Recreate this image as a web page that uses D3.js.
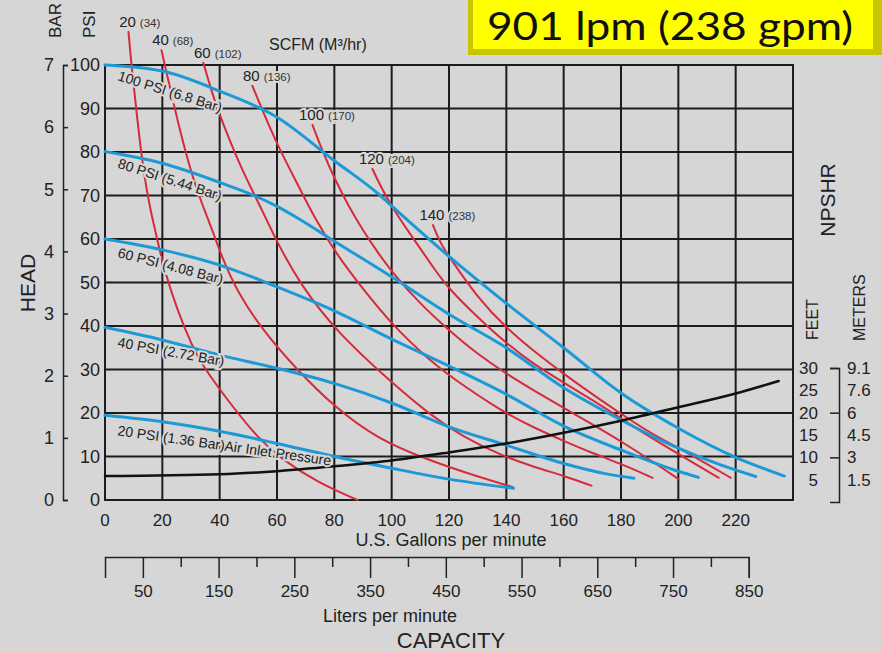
<!DOCTYPE html>
<html>
<head>
<meta charset="utf-8">
<script src="https://cdn.jsdelivr.net/npm/d3@7"></script>
<style>
  html, body { margin: 0; padding: 0; background: #d6d6d6; }
  svg { display: block; font-family: "Liberation Sans", Arial, Helvetica, sans-serif; }
</style>
</head>
<body>
<div id="chart"></div>
<script>
// ---------- data ----------
const gpmTicks = [0, 20, 40, 60, 80, 100, 120, 140, 160, 180, 200, 220];
const psiTicks = [0, 10, 20, 30, 40, 50, 60, 70, 80, 90, 100];
const barTicks = [0, 1, 2, 3, 4, 5, 6, 7];
const lpmTicks = [50, 150, 250, 350, 450, 550, 650, 750, 850];
const lpmMinorTicks = [100, 200, 300, 400, 500, 600, 700, 800];
const feetTicks = [5, 10, 15, 20, 25, 30];
const feetMajor = [10, 20, 30];
const meterLabels = ["1.5", "3", "4.5", "6", "7.6", "9.1"];

// discharge head (psi) vs flow (gpm) for each air inlet pressure
const pressureNames = ["100 PSI (6.8 Bar)", "80 PSI (5.44 Bar)", "60 PSI (4.08 Bar)",
  "40 PSI (2.72 Bar)", "20 PSI (1.36 Bar)Air Inlet Pressure"];
const head100 = [[0,100],[20,98.6],[40,94],[60,88],[80,78],[96,70],[100,67.6],[120,56],[140,45.2],
  [160,35],[180,24.6],[200,16.5],[220,9.8],[237,5.5]];
const head80 = [[0,80.1],[20,77.4],[40,73],[52,70],[60,67.5],[68,64.5],[80,59.5],[100,51.3],[120,42.7],
  [140,35],[160,25.8],[180,18.4],[200,11.9],[215,8],[227,5.4]];
const head60 = [[0,60],[20,57.5],[40,54],[60,49],[80,43.5],[100,37],[120,30.8],[140,24.3],[160,17],
  [180,11.5],[200,6.6],[207,5.2]];
const head40 = [[0,39.7],[20,36.8],[40,33.3],[60,30.3],[80,26.8],[100,22.3],[120,16.8],[140,12.6],
  [160,8.4],[175,6],[184.5,5]];
const head20 = [[0,19.5],[20,18],[40,15.8],[60,13],[80,10],[100,7.3],[120,4.8],[142.5,2.7]];

// air consumption lines, SCFM (m3/hr)
const scfmNames = ["20", "40", "60", "80", "100", "120", "140"];
const m3hrNames = ["(34)", "(68)", "(102)", "(136)", "(170)", "(204)", "(238)"];
const air20 = [[8.2,107.6],[9.2,100],[11.3,87.4],[13.4,75.5],[15.8,66.7],[18.3,59.8],[20.4,53.5],[25,44],
  [30.5,35.2],[34.3,30.6],[42.7,23],[53.2,14.3],[61.2,9.6],[74.1,4],[88.1,0]];
const air40 = [[19.7,103.4],[21.4,98.4],[22.8,94.5],[26.3,84.4],[30.5,74.3],[33.3,69],[37.8,61.4],[41,55.5],
  [46,48],[55,39],[67,29.9],[80,21.4],[95,14],[113.5,9],[128,5.8],[142.1,3]];
const air60 = [[34.3,100.5],[37.8,92.6],[40.6,87.5],[47.2,76.6],[55.3,66],[60.2,59],[68.2,49.5],[80.7,38.7],
  [100,27],[113.5,19.5],[125,14.5],[138,10.3],[150,7.5],[160,5.6],[169.7,3.3]];
const air80 = [[51.4,95.2],[55.3,89],[60.5,81.1],[68.2,71.3],[73,65],[80.7,56.5],[90,48.5],[100.5,40],
  [113.5,32],[120,28.6],[138,20.5],[150,16.5],[160.3,13.5],[170,10.8],[180.4,8.2],[191,5.1]];
const air100 = [[72.4,86.2],[76,80],[80,74],[85,67.5],[90,62],[95,57],[100,52.5],[110,45],[120,39],
  [130,33.5],[140,29],[150,25],[160,21.2],[170,17.4],[180,13.5],[190,9.3],[200.1,4.8]];
const air120 = [[93.3,76.1],[96,72.3],[100,67.5],[105,62.5],[110,57.8],[115,53],[120,48.5],[130,42],
  [140,36],[150,31],[160,27],[170,23],[180,18.8],[190,14.5],[200,10.6],[214.1,5.1]];
const air140 = [[114.4,63.2],[117,59],[120.5,55.5],[130,46.5],[140,39.5],[150,34],[160,29],[170,24.3],
  [180,19.8],[190,15.5],[200,12],[210,8.3],[218.3,5.1]];

// NPSHR (feet) vs flow (gpm)
const npshrFeet = [[0,5.8],[40,6.2],[60,6.9],[80,8],[100,9.3],[120,11.1],[140,13.1],[160,15.5],
  [180,18.2],[200,21.2],[220,24.3],[235,27.1]];

const LPM_PER_GPM = 3.785;

// ---------- drawing ----------
const W = 882, H = 652;
const bg = "#d6d6d6";
const gridColor = "#1c1c1c";
const blue = "#1d9ad6";
const red = "#d62b3b";
const ink = "#222";

const svg = d3.select("#chart").append("svg")
  .attr("width", W).attr("height", H);

svg.append("rect").attr("width", W).attr("height", H).attr("fill", bg);

const x = d3.scaleLinear().domain([0, 240]).range([105, 793]);
const y = d3.scaleLinear().domain([0, 100]).range([500, 65]);
const yBar = d3.scaleLinear().domain([0, 7]).range([500, 65]);
const yFeet = d3.scaleLinear().domain([0, 30]).range([502, 368]);
const xLpm = d3.scaleLinear().domain([0, 850]).range([x(0), x(850 / LPM_PER_GPM)]);

// grid
const grid = svg.append("g").attr("class", "grid");
grid.selectAll("line.v")
  .data(gpmTicks.concat(x.domain()[1]))
  .join("line")
  .attr("class", "v")
  .attr("x1", d => x(d)).attr("x2", d => x(d))
  .attr("y1", y(0) + 1).attr("y2", y(100) - 1)
  .attr("stroke", gridColor).attr("stroke-width", 2);
grid.selectAll("line.h")
  .data(psiTicks)
  .join("line")
  .attr("class", "h")
  .attr("x1", x(0) - 1).attr("x2", x(240) + 1)
  .attr("y1", d => y(d)).attr("y2", d => y(d))
  .attr("stroke", gridColor).attr("stroke-width", 2);

// gpm labels
svg.append("g").selectAll("text")
  .data(gpmTicks).join("text")
  .attr("x", d => x(d)).attr("y", 526)
  .attr("text-anchor", "middle")
  .style("font-size", "17px").attr("fill", ink)
  .text(d => d);

svg.append("text").attr("x", 451).attr("y", 546).attr("text-anchor", "middle")
  .style("font-size", "18px").attr("fill", ink).text("U.S. Gallons per minute");

// psi labels
svg.append("g").selectAll("text")
  .data(psiTicks).join("text")
  .attr("x", 100).attr("y", d => y(d)).attr("dy", "0.36em")
  .attr("text-anchor", "end")
  .style("font-size", "18px").attr("fill", ink)
  .text(d => d);

// bar axis
const barAxis = svg.append("g")
  .attr("transform", "translate(63,0)")
  .call(d3.axisRight(yBar).tickValues(barTicks).tickSize(5).tickSizeOuter(5).tickFormat(d3.format("d")));
barAxis.select(".domain").attr("stroke", ink).attr("stroke-width", 1.5);
barAxis.selectAll(".tick line").attr("stroke", ink).attr("stroke-width", 1.5);
barAxis.selectAll(".tick text")
  .attr("x", -9).attr("text-anchor", "end")
  .style("font-size", "18px").style("font-family", "Liberation Sans, Arial, sans-serif").attr("fill", ink);

// rotated axis titles
function vText(px, py, txt, size, anchor) {
  svg.append("text")
    .attr("transform", `translate(${px},${py}) rotate(-90)`)
    .attr("text-anchor", anchor)
    .style("font-size", size + "px").attr("fill", ink)
    .text(txt);
}
vText(61, 38, "BAR", 17, "start");
vText(95, 38, "PSI", 17, "start");
vText(35, 283, "HEAD", 21, "middle");
vText(835, 200, "NPSHR", 21, "middle");
vText(818, 340, "FEET", 16, "start");
vText(865, 341, "METERS", 16, "start");

// liters axis
const lpmAxis = svg.append("g")
  .attr("transform", "translate(0,557)")
  .call(d3.axisBottom(xLpm).tickValues(lpmTicks).tickSizeInner(21).tickSizeOuter(21).tickPadding(7));
lpmAxis.select(".domain").attr("stroke", ink).attr("stroke-width", 1.5);
lpmAxis.selectAll(".tick line").attr("stroke", ink).attr("stroke-width", 1.5);
lpmAxis.selectAll(".tick text")
  .style("font-size", "17px").style("font-family", "Liberation Sans, Arial, sans-serif").attr("fill", ink);
const lpmMinor = svg.append("g")
  .attr("transform", "translate(0,557)")
  .call(d3.axisBottom(xLpm).tickValues(lpmMinorTicks).tickSize(10).tickFormat(""));
lpmMinor.select(".domain").remove();
lpmMinor.selectAll(".tick line").attr("stroke", ink).attr("stroke-width", 1.5);

svg.append("text").attr("x", 390).attr("y", 622).attr("text-anchor", "middle")
  .style("font-size", "18px").attr("fill", ink).text("Liters per minute");
svg.append("text").attr("x", 451).attr("y", 648).attr("text-anchor", "middle")
  .style("font-size", "22px").attr("fill", ink).text("CAPACITY");

// NPSHR scale bracket
const npAxis = svg.append("g")
  .attr("transform", "translate(839,0)")
  .call(d3.axisLeft(yFeet).tickValues(feetMajor).tickSize(9).tickSizeOuter(9).tickFormat(""));
npAxis.select(".domain").attr("stroke", ink).attr("stroke-width", 1.5);
npAxis.selectAll(".tick line").attr("stroke", ink).attr("stroke-width", 1.5);

svg.append("g").selectAll("text")
  .data(feetTicks).join("text")
  .attr("x", 818).attr("y", d => yFeet(d)).attr("dy", "0.36em")
  .attr("text-anchor", "end")
  .style("font-size", "17px").attr("fill", ink)
  .text(d => d);
svg.append("g").selectAll("text")
  .data(meterLabels).join("text")
  .attr("x", 847).attr("y", (d, i) => yFeet(feetTicks[i])).attr("dy", "0.36em")
  .style("font-size", "17px").attr("fill", ink)
  .text(d => d);

// curves
const line = d3.line().x(d => x(d[0])).y(d => y(d[1])).curve(d3.curveMonotoneX);
const smooth = d3.line().x(d => x(d[0])).y(d => y(d[1])).curve(d3.curveBasis);
const airCurves = [air20, air40, air60, air80, air100, air120, air140];
const headCurves = [head100, head80, head60, head40, head20];

svg.append("g").selectAll("path")
  .data(airCurves).join("path")
  .attr("d", smooth)
  .attr("fill", "none").attr("stroke", red).attr("stroke-width", 2)
  .attr("stroke-linecap", "round");

svg.append("g").selectAll("path")
  .data(headCurves).join("path")
  .attr("d", line)
  .attr("fill", "none").attr("stroke", blue).attr("stroke-width", 3)
  .attr("stroke-linecap", "round");

svg.append("path")
  .datum(npshrFeet)
  .attr("d", d3.line().x(d => x(d[0])).y(d => yFeet(d[1])).curve(d3.curveMonotoneX))
  .attr("fill", "none").attr("stroke", "#111").attr("stroke-width", 2.5)
  .attr("stroke-linecap", "round");

// curve labels (halo hides the grid and red lines behind them)
const labelLayout = [[15, 17.5], [16, 17.8], [18, 14.5], [19.5, 10.3], [20, 8.1]]; // [drop below curve, angle]
svg.append("g").selectAll("text")
  .data(pressureNames).join("text")
  .attr("transform", (d, i) => {
    const px = x(0) + 12;
    const py = y(headCurves[i][0][1]) + labelLayout[i][0];
    return `translate(${px},${py}) rotate(${labelLayout[i][1]})`;
  })
  .style("font-size", "14px").attr("fill", ink)
  .attr("stroke", bg).attr("stroke-width", 4).attr("paint-order", "stroke")
  .text(d => d);

// SCFM labels at the top of each red line
const scfm = svg.append("g");
airCurves.forEach((c, i) => {
  const px = x(c[0][0]) - 1, py = y(c[0][1]) - 5;
  const num = scfm.append("text")
    .attr("x", px).attr("y", py).attr("text-anchor", "middle")
    .style("font-size", "15px").attr("fill", ink)
    .attr("stroke", bg).attr("stroke-width", 4).attr("paint-order", "stroke")
    .text(scfmNames[i]);
  const w = num.node().getComputedTextLength();
  scfm.append("text")
    .attr("x", px + w / 2 + 4).attr("y", py)
    .style("font-size", "11.5px").attr("fill", "#333")
    .attr("stroke", bg).attr("stroke-width", 4).attr("paint-order", "stroke")
    .text(m3hrNames[i]);
});

svg.append("text").attr("x", 269).attr("y", 50)
  .style("font-size", "16px").attr("fill", ink)
  .text("SCFM (M³/hr)");

// title box
const tb = svg.append("g");
tb.append("rect").attr("x", 468).attr("y", 0).attr("width", 414).attr("height", 55).attr("fill", "#c9c600");
tb.append("rect").attr("x", 473).attr("y", 0).attr("width", 400).attr("height", 49).attr("fill", "#ffff00");
tb.append("text").attr("x", 487).attr("y", 40)
  .attr("textLength", 366).attr("lengthAdjust", "spacingAndGlyphs")
  .style("font-family", "Lato, 'Open Sans', sans-serif").style("font-size", "39px").attr("fill", "#111")
  .text("901 lpm (238 gpm)");
</script>
</body>
</html>
